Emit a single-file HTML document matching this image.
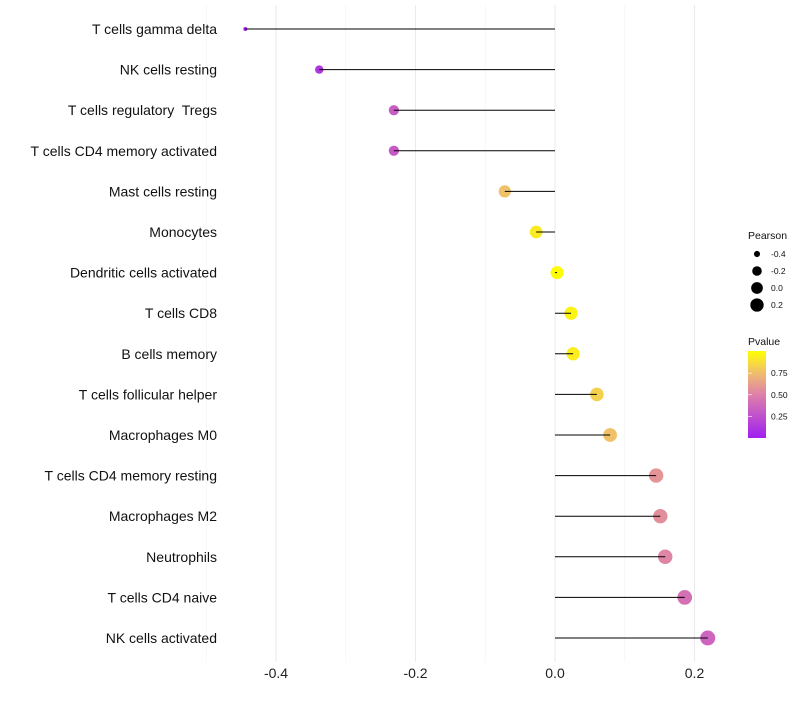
<!DOCTYPE html>
<html><head><meta charset="utf-8"><style>
body{margin:0;background:#fff;font-family:"Liberation Sans",sans-serif;}
text{white-space:pre;}
</style></head><body>
<svg id="chart" width="800" height="700" xmlns="http://www.w3.org/2000/svg"></svg>
<script>
const categories=["T cells gamma delta","NK cells resting","T cells regulatory  Tregs","T cells CD4 memory activated","Mast cells resting","Monocytes","Dendritic cells activated","T cells CD8","B cells memory","T cells follicular helper","Macrophages M0","T cells CD4 memory resting","Macrophages M2","Neutrophils","T cells CD4 naive","NK cells activated"];
const pearson=[-0.444,-0.338,-0.231,-0.231,-0.072,-0.027,0.003,0.023,0.026,0.06,0.079,0.145,0.151,0.158,0.186,0.219];
const pvalue=[0.02,0.12,0.32,0.3,0.76,0.92,0.99,0.95,0.93,0.82,0.76,0.58,0.56,0.52,0.42,0.36];
const xTicks=[-0.4,-0.2,0.0,0.2];
const sizeLegend=[-0.4,-0.2,0.0,0.2];
const pTicks=[0.25,0.5,0.75];

const NS="http://www.w3.org/2000/svg";
const svg=document.getElementById('chart');
const X=v=>555+v*697.5;
const Y=i=>29+i*40.6;
const R=v=>2+5.5*Math.sqrt(Math.max(0,(v+0.444)/0.663));
function col(p){
  const stops=[[0,[160,32,240]],[0.5,[222,128,170]],[0.75,[240,190,110]],[1,[255,255,0]]];
  for(let k=1;k<stops.length;k++){if(p<=stops[k][0]){const a=stops[k-1],b=stops[k],t=(p-a[0])/(b[0]-a[0]);
    return 'rgb('+a[1].map((c,j)=>Math.round(c+(b[1][j]-c)*t)).join(',')+')';}}
  return 'rgb(255,255,0)';
}
function el(t,a,txt){const e=document.createElementNS(NS,t);for(const k in a)e.setAttribute(k,a[k]);if(txt!=null)e.textContent=txt;svg.appendChild(e);return e;}
[-0.5,-0.3,-0.1,0.1].forEach(v=>{const g=el('line',{x1:X(v),x2:X(v),y1:5,y2:662,stroke:'#f2f2f2','stroke-width':0.6});

});
xTicks.forEach(v=>{const g=el('line',{x1:X(v),x2:X(v),y1:5,y2:662,stroke:'#ebebeb','stroke-width':1.1});


const t=el('text',{x:X(v),y:678,'text-anchor':'middle','font-size':14,fill:'#222'},v.toFixed(1));

});
categories.forEach((c,i)=>{
 const t=el('text',{x:217,y:Y(i)+5,'text-anchor':'end','font-size':14,fill:'#111'},c);
 
 
 const d=el('circle',{cx:X(pearson[i]),cy:Y(i),r:R(pearson[i]),fill:col(pvalue[i])});
 
 
 const s=el('line',{x1:X(0),x2:X(pearson[i]),y1:Y(i),y2:Y(i),stroke:'#000','stroke-width':1});
 
 
});
const lt=el('text',{x:748,y:239,'font-size':10.5,fill:'#111'},'Pearson');


sizeLegend.forEach((v,k)=>{const yy=254+k*17;
 const c=el('circle',{cx:757,cy:yy,r:R(v)*0.9,fill:'#000'});
 
 
 const t=el('text',{x:771,y:yy+3,'font-size':8.5,fill:'#111'},v.toFixed(1));
 
 });
const pt=el('text',{x:748,y:345,'font-size':10.5,fill:'#111'},'Pvalue');


const defs=el('defs',{});
const lg=document.createElementNS(NS,'linearGradient');lg.setAttribute('id','pg');lg.setAttribute('x1','0');lg.setAttribute('y1','1');lg.setAttribute('x2','0');lg.setAttribute('y2','0');
for(let k=0;k<=10;k++){const s=document.createElementNS(NS,'stop');s.setAttribute('offset',k/10);s.setAttribute('stop-color',col(k/10));lg.appendChild(s);}
defs.appendChild(lg);
const bar=el('rect',{x:748,y:351,width:18,height:87,fill:'url(#pg)'});


const PY=p=>438-p*86.5;
pTicks.forEach(p=>{
 const t=el('text',{x:771,y:PY(p)+3,'font-size':8.5,fill:'#111'},p.toFixed(2));
 
 
 const m=el('line',{x1:748,x2:752,y1:PY(p),y2:PY(p),stroke:'#fff','stroke-width':0.6});
 
 
});
</script>
</body></html>
